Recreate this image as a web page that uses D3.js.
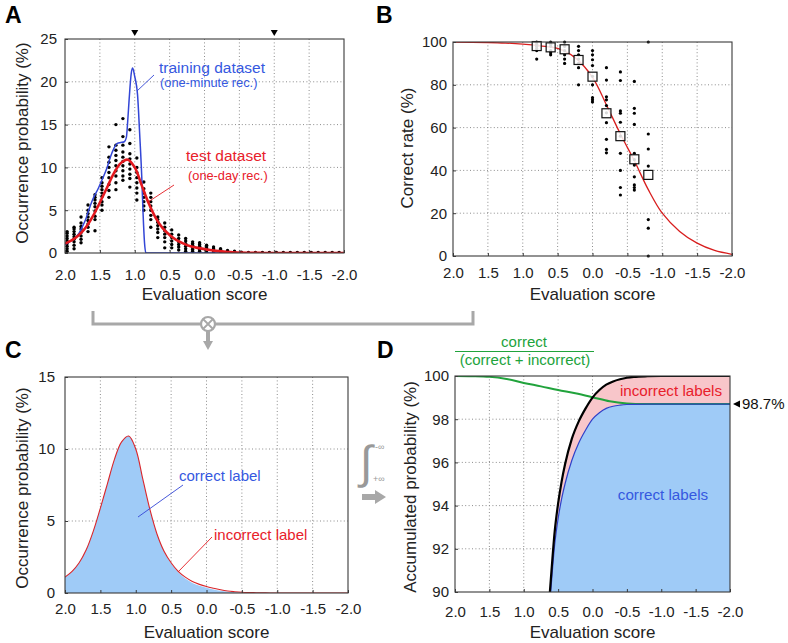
<!DOCTYPE html>
<html><head><meta charset="utf-8">
<script src="https://cdn.jsdelivr.net/npm/d3@7"></script>
<style>
body{margin:0;background:#fff}
svg{display:block}
text{font-family:Arial,"Liberation Sans",Helvetica,sans-serif}
</style>
</head><body>
<svg id="c" width="788" height="643"></svg>
<script>
// ---------- shared axis ----------
const xTicks = [2.0,1.5,1.0,0.5,0.0,-0.5,-1.0,-1.5,-2.0];
const xTickLabels = ["2.0","1.5","1.0","0.5","0.0","-0.5","-1.0","-1.5","-2.0"];

// ---------- Panel A / C : occurrence distributions ----------
const curveX = [2.0,1.9,1.8,1.7,1.6,1.5,1.4,1.3,1.2,1.1,1.0,0.9,0.8,0.7,0.6,0.5,0.4,0.3,0.2,0.1,0.0,-0.1,-0.2,-0.3,-0.4,-0.5,-0.6,-0.7,-0.8,-0.9,-1.0,-1.1,-1.2,-1.3,-1.4,-1.5,-1.6,-1.7,-1.8,-1.9,-2.0];
const testCurve = [1.1,1.5,2.1,3.0,4.3,5.9,7.6,9.3,10.5,10.9,10.0,7.9,5.8,4.1,2.9,2.1,1.5,1.1,0.8,0.6,0.45,0.33,0.22,0.14,0.09,0.05,0.03,0.02,0.01,0,0,0,0,0,0,0,0,0,0,0,0];
const correctCurve = [1.1,1.5,2.1,3.0,4.3,5.9,7.6,9.3,10.5,10.9,10.0,7.9,5.8,4.1,2.9,2.05,1.45,1.0,0.7,0.5,0.36,0.24,0.15,0.08,0.05,0.02,0.01,0,0,0,0,0,0,0,0,0,0,0,0,0,0];
const trainX = [2.0,1.9,1.8,1.75,1.7,1.66,1.6,1.52,1.45,1.4,1.35,1.3,1.25,1.2,1.15,1.12,1.1,1.08,1.05,1.03,1.0,0.96,0.93,0.9,0.88,0.86,0.84,0.5,0.0,-1.0,-2.0];
const trainY = [1.0,1.5,2.3,3.1,4.0,5.0,6.3,7.6,8.9,9.9,11.2,12.2,12.8,12.9,13.0,13.5,15.5,18.0,21.0,21.6,20.6,18.5,14.0,9.0,4.5,1.2,0,0,0,0,0];
const dotColX = [1.97,1.87,1.77,1.67,1.57,1.47,1.37,1.27,1.17,1.07,0.97,0.87,0.77,0.67,0.57,0.47,0.37,0.27,0.17,0.07,-0.03,-0.13,-0.23,-0.33,-0.43,-0.53,-0.63,-0.73,-0.83,-0.93,-1.03,-1.13,-1.23,-1.33,-1.43,-1.53,-1.63,-1.73,-1.83,-1.93];
const dotColVals = [
 [0.2,0.5,0.8,1.1,1.4,1.7,2.0,2.3,2.5],
 [0.5,0.9,1.3,1.6,1.9,2.2,2.5,2.8,3.0],
 [1.2,1.6,2.0,2.4,2.8,3.1,3.5,4.2],
 [2.5,3.0,3.4,3.8,4.2,4.6,5.0,5.6],
 [2.6,3.9,4.3,4.9,5.4,5.8,6.2,6.5,6.8],
 [5.0,5.6,6.0,6.6,7.0,7.4,7.8,8.2,8.8],
 [6.5,7.3,8.0,8.8,9.4,10.0,10.6,11.2,12.4],
 [7.4,8.2,9.0,9.6,10.2,10.8,11.4,12.0,12.6,15.0],
 [8.5,9.0,9.6,10.2,10.7,11.2,11.8,12.6,13.6,15.7],
 [7.7,8.7,9.2,9.8,10.4,11.0,11.6,12.8,14.4],
 [6.2,7.0,7.6,8.2,8.8,9.4,10.0,11.1],
 [5.0,5.5,6.0,6.5,7.0,7.5,8.3],
 [3.0,3.9,4.4,5.0,5.5,6.0,6.5,7.0],
 [1.8,2.4,2.8,3.2,3.6,3.9,4.2],
 [0.6,1.3,1.8,2.2,2.6,3.0,3.5],
 [0.6,1.0,1.4,1.8,2.2,2.7],
 [0.35,0.7,1.0,1.3,1.7,2.1],
 [0.2,0.5,0.8,1.1,1.4,1.7],
 [0.2,0.4,0.6,0.9,1.1,1.3],
 [0.2,0.4,0.6,0.8,1.0,1.2],
 [0.1,0.3,0.5,0.7,0.9],
 [0.1,0.3,0.5,0.7],
 [0.0,0.2,0.4,0.5],
 [0.0,0.15,0.3],
 [0.0,0.1,0.2],
 [0.0,0.1],[0.0,0.05],[0.0,0.05],[0.0,0.05],[0.0,0.05],[0.0,0.05],[0.0,0.05],[0.0,0.05],[0.0,0.05],[0.0,0.05],[0.0,0.05],[0.0,0.05],[0.0,0.05],[0.0,0.05],[0.0,0.05]
];
const markerX = [1.0,-1.0];

// ---------- Panel B : correct rate ----------
const rateColX = [0.8,0.6,0.4,0.2,0.0,-0.2,-0.4,-0.6,-0.8];
const rateMean = [98.1,97.5,96.6,91.6,83.8,66.7,56.0,45.2,37.9];
const rateDots = [
 [100,99,98,97,96,92],
 [100,99,98,96,95,94],
 [100,98,96,94,92,90],
 [98,96,94,92,90,88,80],
 [96,94,91.7,89,84,80,74,73,72],
 [88,82.2,74.4,73,70.3,66.9,62.3,54.5,49.8,48.2],
 [86,82,67.8,66.7,62.5,56,48,40,32,28.5],
 [81.6,69,66.7,61.5,48,45,42.5,37,33.2,32,30.8],
 [100,57,50,42,17,13,0]
];
const rateCurveX = [2.0,1.5,1.25,1.0,0.75,0.5,0.25,0.0,-0.2,-0.4,-0.6,-0.8,-1.0,-1.25,-1.5,-1.75,-2.0];
const rateCurveY = [99.95,99.75,99.5,99.0,98.2,97.0,92.7,83.5,70.6,57.0,44.5,31.0,20.0,11.5,6.0,2.6,0.8];

// ---------- Panel D : accumulated ----------
const accX = [0.75,0.7,0.65,0.62,0.55,0.5,0.45,0.4,0.3,0.2,0.1,0.0,-0.1,-0.2,-0.3,-0.4,-0.5,-0.6,-0.8,-1.0,-1.5,-2.0];
const accTotal = [82.5,86.5,88.8,90.0,92.8,94.1,95.1,95.9,97.1,97.9,98.5,99.0,99.35,99.6,99.75,99.85,99.92,99.96,99.99,100,100,100];
const accCorrect = [82.0,86.0,88.3,89.5,92.2,93.4,94.3,95.0,96.1,96.9,97.5,98.0,98.3,98.5,98.6,98.65,98.68,98.69,98.7,98.7,98.7,98.7];
const ratioX = [2.0,1.75,1.5,1.25,1.0,0.75,0.5,0.25,0.0,-0.25,-0.5,-0.75,-1.0,-1.5,-2.0];
const ratioY = [100.0,99.99,99.96,99.86,99.68,99.52,99.35,99.2,99.02,98.83,98.73,98.7,98.7,98.7,98.7];
const finalRate = 98.7;

// ---------- colours ----------
const RED = "#e3191f", BLUE = "#3346d6", GREEN = "#21a33c", FILLBLUE = "#9fcbf7", FILLPINK = "#f8c6ca";
const TXTBLUE = "#3558e0", TXTRED = "#e8202a", TXTGREEN = "#21a33c", GRAY = "#a8a8a8";

const svg = d3.select("#c");
let clipN = 0;

function makePanel(p) {
  const x = d3.scaleLinear().domain([2,-2]).range([p.x0,p.x1]);
  const y = d3.scaleLinear().domain(p.yDomain).range([p.y1,p.y0]);
  const g = svg.append("g");
  const id = "clip" + (clipN++);
  svg.append("clipPath").attr("id",id).append("rect")
    .attr("x",p.x0).attr("y",p.y0).attr("width",p.x1-p.x0).attr("height",p.y1-p.y0);
  g.append("g").selectAll("line").data(xTicks.slice(1,-1)).join("line")
    .attr("x1",d=>x(d)).attr("x2",d=>x(d)).attr("y1",p.y0).attr("y2",p.y1)
    .attr("stroke","#8c8c8c").attr("stroke-dasharray","1,2.4");
  g.append("g").selectAll("line").data(p.yTicks.slice(1,-1)).join("line")
    .attr("y1",d=>y(d)).attr("y2",d=>y(d)).attr("x1",p.x0).attr("x2",p.x1)
    .attr("stroke","#8c8c8c").attr("stroke-dasharray","1,2.4");
  const data = g.append("g").attr("clip-path","url(#"+id+")");
  const over = svg.append("g");
  return {x,y,g,data,over,p};
}

function finishPanel(P) {
  const {x,y,over:g,p} = P;
  g.append("rect").attr("x",p.x0).attr("y",p.y0).attr("width",p.x1-p.x0).attr("height",p.y1-p.y0)
    .attr("fill","none").attr("stroke","#3a3a3a").attr("stroke-width",1.1);
  const ax = g.append("g").attr("transform",`translate(0,${p.y1})`)
    .call(d3.axisBottom(x).tickValues(xTicks).tickFormat((d,i)=>xTickLabels[i])
      .tickSizeInner(-3).tickSizeOuter(0).tickPadding(p.xPad));
  ax.select(".domain").remove();
  ax.selectAll("line").attr("stroke","#3a3a3a");
  ax.selectAll("text").attr("font-size",15).attr("fill","#222").attr("font-family","Arial, Liberation Sans, sans-serif");
  const ay = g.append("g").attr("transform",`translate(${p.x0},0)`)
    .call(d3.axisLeft(y).tickValues(p.yTicks).tickFormat(d3.format("d"))
      .tickSizeInner(-3).tickSizeOuter(0).tickPadding(p.yPad));
  ay.select(".domain").remove();
  ay.selectAll("line").attr("stroke","#3a3a3a");
  ay.selectAll("text").attr("font-size",15).attr("fill","#222").attr("font-family","Arial, Liberation Sans, sans-serif");
  g.append("text").attr("x",(p.x0+p.x1)/2).attr("y",p.xTitleY).attr("text-anchor","middle")
    .attr("font-size",17).attr("fill","#222").text("Evaluation score");
  g.append("text").attr("transform",`translate(${p.yTitleX},${p.yTitleC}) rotate(-90)`)
    .attr("text-anchor","middle").attr("font-size",17).attr("fill","#222").text(p.yTitle);
  g.append("text").attr("x",p.letterX).attr("y",p.letterY).attr("font-size",23)
    .attr("font-weight","bold").attr("fill","#000").text(p.letter);
}

// ================= Panel A =================
const A = makePanel({x0:65,x1:344,y0:39,y1:253,yDomain:[0,25],yTicks:[0,5,10,15,20,25],
  xPad:16,yPad:8,xTitleY:300,yTitleX:28,yTitleC:143,yTitle:"Occurrence probability (%)",letter:"A",letterX:5,letterY:23});
{
  const {x,y,data} = A;
  const pts = [];
  dotColX.forEach((cx,i)=>dotColVals[i].forEach(v=>pts.push([cx,v])));
  data.append("g").selectAll("circle").data(pts).join("circle")
    .attr("cx",d=>x(d[0])).attr("cy",d=>y(d[1])).attr("r",1.7).attr("fill","#000");
  const trainLine = d3.line().x((d,i)=>x(trainX[i])).y(d=>y(d)).curve(d3.curveMonotoneX);
  data.append("path").attr("d",trainLine(trainY)).attr("fill","none").attr("stroke",BLUE).attr("stroke-width",1.5);
  const testLine = d3.line().x((d,i)=>x(curveX[i])).y(d=>y(d)).curve(d3.curveCatmullRom.alpha(0.5));
  data.append("path").attr("d",testLine(testCurve)).attr("fill","none").attr("stroke",RED).attr("stroke-width",2.6);
  A.over.selectAll("path.mk").data(markerX).join("path").attr("class","mk")
    .attr("d",d=>`M${x(d)-3.5},30L${x(d)+3.5},30L${x(d)},36Z`).attr("fill","#000");
  const ga = A.over;
  ga.append("line").attr("x1",154).attr("y1",75).attr("x2",137).attr("y2",91).attr("stroke",BLUE).attr("stroke-width",0.9);
  ga.append("text").attr("x",159).attr("y",73).attr("font-size",15.5).attr("fill",TXTBLUE).text("training dataset");
  ga.append("text").attr("x",160).attr("y",87).attr("font-size",12.8).attr("fill",TXTBLUE).text("(one-minute rec.)");
  ga.append("line").attr("x1",174).attr("y1",185).attr("x2",148).attr("y2",202).attr("stroke",RED).attr("stroke-width",0.9);
  ga.append("text").attr("x",186).attr("y",161).attr("font-size",15.5).attr("fill",TXTRED).text("test dataset");
  ga.append("text").attr("x",188).attr("y",180).attr("font-size",12.8).attr("fill",TXTRED).text("(one-day rec.)");
}
finishPanel(A);

// ================= Panel B =================
const B = makePanel({x0:453,x1:732,y0:42,y1:256,yDomain:[0,100],yTicks:[0,20,40,60,80,100],
  xPad:11,yPad:6,xTitleY:300,yTitleX:413,yTitleC:148,yTitle:"Correct rate (%)",letter:"B",letterX:376,letterY:23});
{
  const {x,y,data} = B;
  const pts = [];
  rateColX.forEach((cx,i)=>rateDots[i].forEach(v=>pts.push([cx,v])));
  B.over.append("g").selectAll("circle").data(pts).join("circle")
    .attr("cx",d=>x(d[0])).attr("cy",d=>y(d[1])).attr("r",1.6).attr("fill","#000");
  const rl = d3.line().x((d,i)=>x(rateCurveX[i])).y(d=>y(d)).curve(d3.curveCatmullRom.alpha(0.5));
  data.append("path").attr("d",rl(rateCurveY)).attr("fill","none").attr("stroke","#d81e1e").attr("stroke-width",1.3);
  B.over.append("g").selectAll("rect").data(rateMean).join("rect")
    .attr("x",(d,i)=>x(rateColX[i])-4.5).attr("y",d=>y(d)-4.5).attr("width",9).attr("height",9)
    .attr("fill","#fff").attr("fill-opacity",0.85).attr("stroke","#111").attr("stroke-width",1.2);
}
finishPanel(B);

// ================= Panel C =================
const C = makePanel({x0:65,x1:348,y0:377,y1:593,yDomain:[0,15],yTicks:[0,5,10,15],
  xPad:10,yPad:10,xTitleY:638,yTitleX:28,yTitleC:488,yTitle:"Occurrence probability (%)",letter:"C",letterX:5,letterY:358});
{
  const {x,y,data} = C;
  const ar = d3.area().x((d,i)=>x(curveX[i])).y0(y(0)).y1(d=>y(d)).curve(d3.curveCatmullRom.alpha(0.5));
  data.append("path").attr("d",ar(correctCurve)).attr("fill",FILLBLUE);
  const ln = d3.line().x((d,i)=>x(curveX[i])).y(d=>y(d)).curve(d3.curveCatmullRom.alpha(0.5));
  data.append("path").attr("d",ln(testCurve)).attr("fill","none").attr("stroke","#d9262b").attr("stroke-width",1.1);
  const gc = C.over;
  gc.append("line").attr("x1",183).attr("y1",485).attr("x2",138).attr("y2",517).attr("stroke",BLUE).attr("stroke-width",0.9);
  gc.append("text").attr("x",179).attr("y",481).attr("font-size",15).attr("fill",TXTBLUE).text("correct label");
  gc.append("line").attr("x1",212).attr("y1",537).attr("x2",178).attr("y2",572).attr("stroke",RED).attr("stroke-width",0.9);
  gc.append("text").attr("x",214).attr("y",540).attr("font-size",15).attr("fill",TXTRED).text("incorrect label");
}
finishPanel(C);

// ================= Panel D =================
const D = makePanel({x0:455,x1:730,y0:376,y1:592,yDomain:[90,100],yTicks:[90,92,94,96,98,100],
  xPad:14,yPad:6,xTitleY:638,yTitleX:416,yTitleC:487,yTitle:"Accumulated probability (%)",letter:"D",letterX:377,letterY:358});
{
  const {x,y,data} = D;
  const pink = d3.area().x((d,i)=>x(accX[i])).y0((d,i)=>y(accCorrect[i])).y1(d=>y(d)).curve(d3.curveMonotoneX);
  data.append("path").attr("d",pink(accTotal)).attr("fill",FILLPINK);
  const blueA = d3.area().x((d,i)=>x(accX[i])).y0(y(90)).y1(d=>y(d)).curve(d3.curveMonotoneX);
  data.append("path").attr("d",blueA(accCorrect)).attr("fill",FILLBLUE);
  const gl = d3.line().x((d,i)=>x(ratioX[i])).y(d=>y(d)).curve(d3.curveMonotoneX);
  data.append("path").attr("d",gl(ratioY)).attr("fill","none").attr("stroke",GREEN).attr("stroke-width",2);
  const al = d3.line().x((d,i)=>x(accX[i])).y(d=>y(d)).curve(d3.curveMonotoneX);
  data.append("path").attr("d",al(accCorrect)).attr("fill","none").attr("stroke","#3040c8").attr("stroke-width",1.2);
  data.append("path").attr("d",al(accTotal)).attr("fill","none").attr("stroke","#000").attr("stroke-width",2.2);
  const gd = D.over;
  gd.append("text").attr("x",671).attr("y",396).attr("text-anchor","middle").attr("font-size",15.2).attr("fill",TXTRED).text("incorrect labels");
  gd.append("text").attr("x",663).attr("y",500).attr("text-anchor","middle").attr("font-size",15.2).attr("fill",TXTBLUE).text("correct labels");
  const yr = y(finalRate);
  gd.append("path").attr("d",`M${733},${yr}L${740},${yr-3.5}L${740},${yr+3.5}Z`).attr("fill","#000");
  gd.append("text").attr("x",742).attr("y",yr+5).attr("font-size",15).attr("fill","#111").text(finalRate.toFixed(1)+"%");
  gd.append("text").attr("x",524).attr("y",347).attr("text-anchor","middle").attr("font-size",15).attr("fill",TXTGREEN).text("correct");
  gd.append("line").attr("x1",455).attr("x2",594).attr("y1",351.5).attr("y2",351.5).attr("stroke",TXTGREEN).attr("stroke-width",1.2);
  gd.append("text").attr("x",525).attr("y",365).attr("text-anchor","middle").attr("font-size",15).attr("fill",TXTGREEN).text("(correct + incorrect)");
}
finishPanel(D);

// ================= flow decorations =================
{
  const f = svg.append("g");
  f.append("path").attr("d","M93,311V324H473V311").attr("fill","none").attr("stroke",GRAY).attr("stroke-width",3);
  f.append("circle").attr("cx",208).attr("cy",324).attr("r",7).attr("fill","#fff").attr("stroke",GRAY).attr("stroke-width",2.2);
  f.append("path").attr("d","M203,319L213,329M213,319L203,329").attr("stroke",GRAY).attr("stroke-width",1.8);
  f.append("path").attr("d","M208,331V342").attr("stroke",GRAY).attr("stroke-width",4);
  f.append("path").attr("d","M203,341L213,341L208,350Z").attr("fill",GRAY);
  f.append("text").attr("x",360).attr("y",478).attr("font-size",46).attr("fill","#999").attr("font-family","DejaVu Serif, serif").text("∫");
  f.append("text").attr("x",375).attr("y",450).attr("font-size",9).attr("fill","#999").text("-∞");
  f.append("text").attr("x",373).attr("y",482).attr("font-size",9).attr("fill","#999").text("+∞");
  f.append("path").attr("d","M362,497H376").attr("stroke",GRAY).attr("stroke-width",6);
  f.append("path").attr("d","M375,490L386,497L375,504Z").attr("fill",GRAY);
}
</script>
</body></html>
